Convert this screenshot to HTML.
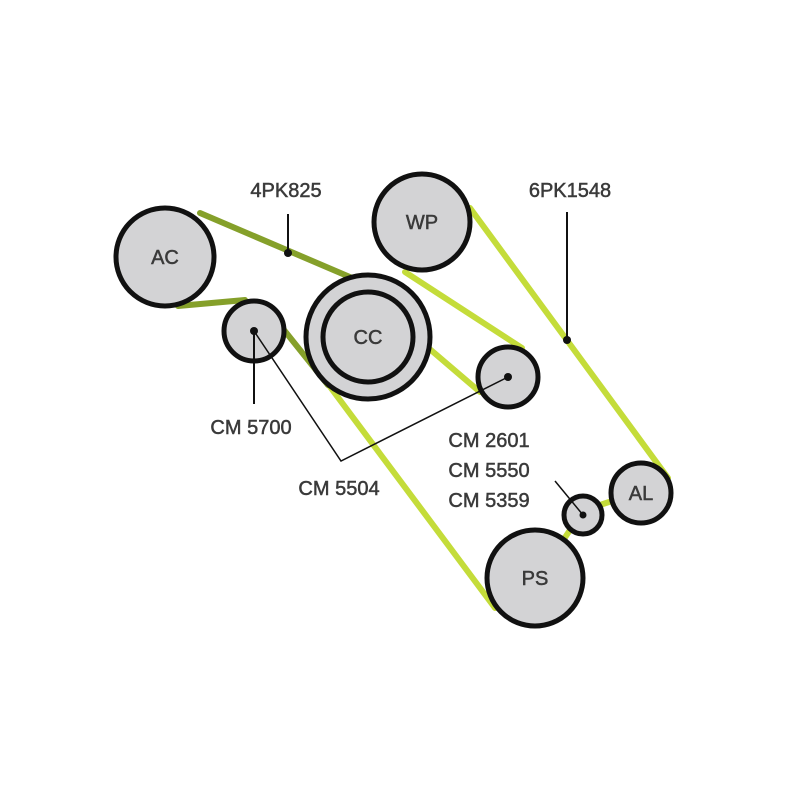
<!DOCTYPE html>
<html><head><style>
html,body{margin:0;padding:0;background:#fff;}
svg{display:block}
text{font-family:"Liberation Sans",sans-serif;fill:#3a3a3a;stroke:#3a3a3a;stroke-width:0.5;}
</style></head><body>
<svg width="800" height="800" viewBox="0 0 800 800">
<g stroke-linecap="round" fill="none">
<line x1="470" y1="208" x2="668" y2="478" stroke="#c4dc3a" stroke-width="6"/>
<line x1="405" y1="272" x2="522" y2="348" stroke="#c4dc3a" stroke-width="6"/>
<line x1="425" y1="345" x2="480" y2="392" stroke="#c4dc3a" stroke-width="6"/>
<line x1="325" y1="380" x2="495" y2="608" stroke="#c4dc3a" stroke-width="6"/>
<line x1="570" y1="530" x2="560" y2="545" stroke="#c4dc3a" stroke-width="6"/>
<line x1="600" y1="505" x2="615" y2="500" stroke="#c4dc3a" stroke-width="6"/>
<line x1="200" y1="213" x2="385" y2="292" stroke="#85a02a" stroke-width="6"/>
<line x1="178" y1="306" x2="245" y2="300" stroke="#85a02a" stroke-width="6"/>
<line x1="284" y1="330" x2="328" y2="385" stroke="#85a02a" stroke-width="6"/>
</g>
<g stroke="#111" stroke-width="5" fill="#d3d3d5">
<circle cx="165" cy="257" r="49"/>
<circle cx="422" cy="222" r="48"/>
<circle cx="368" cy="337" r="62"/>
<circle cx="368" cy="337" r="45"/>
<circle cx="254" cy="331" r="30"/>
<circle cx="508" cy="377" r="30"/>
<circle cx="641" cy="493" r="30"/>
<circle cx="583" cy="515" r="19"/>
<circle cx="535" cy="578" r="48"/>
</g>
<g stroke="#111" fill="none">
<line x1="288" y1="214" x2="288" y2="253" stroke-width="2"/>
<line x1="567" y1="212" x2="567" y2="340" stroke-width="2"/>
<line x1="254" y1="331" x2="254" y2="404" stroke-width="2"/>
<polyline points="254,331 341,461 508,377" stroke-width="1.5"/>
<line x1="555" y1="481" x2="583" y2="515" stroke-width="1.5"/>
</g>
<g fill="#111">
<circle cx="288" cy="253" r="4"/>
<circle cx="567" cy="340" r="4"/>
<circle cx="254" cy="331" r="4"/>
<circle cx="508" cy="377" r="4"/>
<circle cx="583" cy="515" r="3.5"/>
</g>
<g font-size="20" text-anchor="middle">
<text x="165" y="264">AC</text>
<text x="422" y="229">WP</text>
<text x="368" y="344">CC</text>
<text x="641" y="500">AL</text>
<text x="535" y="585">PS</text>
<text x="286" y="197">4PK825</text>
<text x="570" y="197">6PK1548</text>
<text x="251" y="434">CM 5700</text>
<text x="339" y="495">CM 5504</text>
<text x="489" y="447">CM 2601</text>
<text x="489" y="477">CM 5550</text>
<text x="489" y="507">CM 5359</text>
</g>
</svg>
</body></html>
